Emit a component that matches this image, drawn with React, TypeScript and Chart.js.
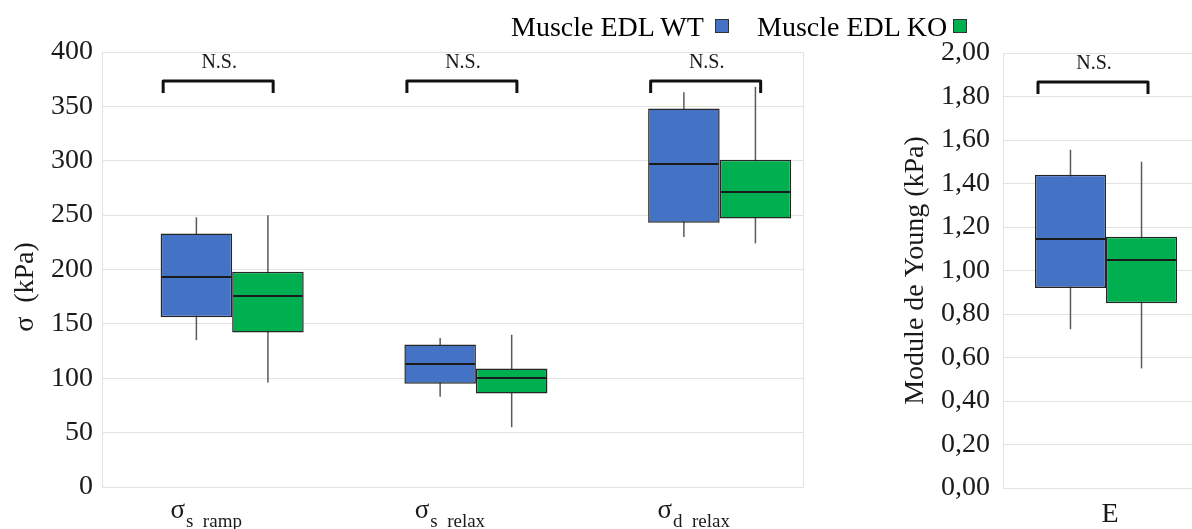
import React, { useEffect, useRef } from 'react';
import { Chart, registerables } from 'chart.js';

Chart.register(...registerables);

// ---------- data ----------
const seriesNames = ['Muscle EDL WT', 'Muscle EDL KO'];

// stress panel (kPa)
const stressMain = ['σ', 'σ', 'σ'];
const stressSub = ['s  ramp', 's  relax', 'd  relax'];
const wtMin = [135, 83, 230];
const wtQ1 = [156, 95, 243];
const wtMedian = [193, 113, 297];
const wtQ3 = [233, 131, 348];
const wtMax = [248, 137, 363];
const koMin = [96, 55, 224];
const koQ1 = [142, 86, 247];
const koMedian = [176, 100, 271];
const koQ3 = [198, 109, 301];
const koMax = [250, 140, 368];
const stressSig = ['N.S.', 'N.S.', 'N.S.'];
const stressTitle = 'σ  (kPa)';
const stressMax = 400;
const stressStep = 50;

// Young's modulus panel (kPa)
const youngCats = ['E'];
const eWtMin = [0.73];
const eWtQ1 = [0.92];
const eWtMedian = [1.145];
const eWtQ3 = [1.44];
const eWtMax = [1.555];
const eKoMin = [0.55];
const eKoQ1 = [0.85];
const eKoMedian = [1.05];
const eKoQ3 = [1.155];
const eKoMax = [1.5];
const youngSig = ['N.S.'];
const youngTitle = 'Module de Young (kPa)';
const youngMax = 2;
const youngStep = 0.2;

// ---------- styles ----------
const FONT = "'Liberation Serif', 'Times New Roman', serif";
const BLUE = '#4472C4';
const GREEN = '#00B050';
const BOX_BORDER = '#262626';
const WHISKER = '#5a5a5a';
const MEDIAN = '#1a1a1a';
const GRID = '#e2e2e2';
const TEXT = '#1a1a1a';

type Series = { min: number[]; q1: number[]; med: number[]; q3: number[]; max: number[] };

type Cfg = {
  count: number;
  wt: Series;
  ko: Series;
  yMax: number;
  yStep: number;
  tickFmt: (v: number) => string;
  title: string;
  axisTitle: boolean;
  xMin: number;
  xMax: number;
  catPct: number;
  yAxisWidth: number;
  tickPad: number;
  padding: { top: number; bottom: number; left: number; right: number };
  sig: string[];
  bracketShift: number;
  drawLabels: (chart: any) => void;
};

function makeBoxChart(canvas: HTMLCanvasElement, cfg: Cfg) {
  const xs = Array.from({ length: cfg.count }, (_, i) => i + 1);
  const boxDs = (s: Series, color: string, stack: string) => ({
    data: xs.map((x, i) => ({ x, y: [s.q1[i], s.q3[i]] })),
    backgroundColor: color,
    borderColor: BOX_BORDER,
    borderWidth: 1.5,
    borderSkipped: false,
    stack,
    order: 0,
    categoryPercentage: cfg.catPct,
    barPercentage: 1,
  });
  const whiskerDs = (s: Series, stack: string) => ({
    data: xs.map((x, i) => ({ x, y: [s.min[i], s.max[i]] })),
    backgroundColor: WHISKER,
    borderWidth: 0,
    stack,
    order: 1,
    categoryPercentage: cfg.catPct,
    barPercentage: 1,
    maxBarThickness: 1.5,
  });

  const boxPlugin = {
    id: 'boxExtras',
    beforeDatasetsDraw(chart: any) {
      const { ctx, chartArea: a } = chart;
      ctx.save();
      ctx.strokeStyle = GRID;
      ctx.lineWidth = 1;
      ctx.strokeRect(Math.round(a.left) + 0.5, Math.round(a.top) + 0.5, Math.round(a.right - a.left) - 1, Math.round(a.bottom - a.top));
      ctx.restore();
    },
    afterDatasetsDraw(chart: any) {
      const { ctx, chartArea: a } = chart;
      const yS = chart.scales.y;
      const xS = chart.scales.x;
      [cfg.wt, cfg.ko].forEach((s, d) => {
        const meta = chart.getDatasetMeta(d);
        meta.data.forEach((el: any, i: number) => {
          const { x, width } = el.getProps(['x', 'width'], true);
          const py = Math.round(yS.getPixelForValue(s.med[i]));
          ctx.save();
          ctx.strokeStyle = MEDIAN;
          ctx.lineWidth = 2;
          ctx.beginPath();
          ctx.moveTo(x - width / 2 + 1, py);
          ctx.lineTo(x + width / 2 - 1, py);
          ctx.stroke();
          ctx.restore();
        });
      });
      // significance brackets
      cfg.sig.forEach((label, i) => {
        const cx = xS.getPixelForValue(i + 1) + cfg.bracketShift;
        const top = a.top + 29;
        ctx.save();
        ctx.strokeStyle = '#111';
        ctx.lineWidth = 3;
        ctx.lineJoin = 'round';
        ctx.beginPath();
        ctx.moveTo(cx - 55, top + 12);
        ctx.lineTo(cx - 55, top);
        ctx.lineTo(cx + 55, top);
        ctx.lineTo(cx + 55, top + 12);
        ctx.stroke();
        ctx.fillStyle = TEXT;
        ctx.font = `20px ${FONT}`;
        ctx.textAlign = 'center';
        ctx.textBaseline = 'alphabetic';
        ctx.fillText(label, cx + 1, top - 13);
        ctx.restore();
      });
    },
    afterDraw(chart: any) {
      cfg.drawLabels(chart);
    },
  };

  return new Chart(canvas, {
    type: 'bar',
    data: {
      datasets: [
        { label: seriesNames[0], ...boxDs(cfg.wt, BLUE, 'wt') },
        { label: seriesNames[1], ...boxDs(cfg.ko, GREEN, 'ko') },
        { label: seriesNames[0] + ' whisker', ...whiskerDs(cfg.wt, 'wt') },
        { label: seriesNames[1] + ' whisker', ...whiskerDs(cfg.ko, 'ko') },
      ] as any,
    },
    options: {
      animation: false,
      responsive: false,
      devicePixelRatio: 1,
      layout: { padding: cfg.padding },
      plugins: { legend: { display: false }, tooltip: { enabled: false } },
      scales: {
        x: {
          type: 'linear',
          display: false,
          offset: false,
          min: cfg.xMin,
          max: cfg.xMax,
          afterBuildTicks: (s: any) => {
            s.ticks = xs.map((v) => ({ value: v }));
          },
        } as any,
        y: {
          min: 0,
          max: cfg.yMax,
          stacked: false,
          beginAtZero: true,
          ticks: {
            stepSize: cfg.yStep,
            padding: cfg.tickPad,
            color: TEXT,
            font: { family: FONT, size: 28 },
            callback: (v: any) => cfg.tickFmt(Number(v)),
          },
          grid: { color: GRID, drawTicks: false, lineWidth: 1 },
          border: { display: false },
          title: {
            display: cfg.axisTitle,
            text: cfg.title,
            color: TEXT,
            font: { family: FONT, size: 28 },
            padding: { top: 9, bottom: 0 },
          },
          afterFit: (s: any) => {
            s.width = cfg.yAxisWidth;
          },
        } as any,
      },
    },
    plugins: [boxPlugin],
  } as any);
}

const stressCfg: Cfg = {
  count: stressMain.length,
  wt: { min: wtMin, q1: wtQ1, med: wtMedian, q3: wtQ3, max: wtMax },
  ko: { min: koMin, q1: koQ1, med: koMedian, q3: koQ3, max: koMax },
  yMax: stressMax,
  yStep: stressStep,
  tickFmt: (v) => String(Math.round(v)),
  title: stressTitle,
  axisTitle: false,
  xMin: 0.466,
  xMax: 3.346,
  catPct: 0.587,
  yAxisWidth: 102,
  tickPad: 9,
  padding: { top: 52, bottom: 42, left: 0, right: 6 },
  sig: stressSig,
  bracketShift: -14,
  drawLabels: (chart: any) => {
    const { ctx } = chart;
    const xS = chart.scales.x;
    // y axis title (drawn here so it can sit where the original has it)
    ctx.save();
    ctx.translate(26, 287);
    ctx.rotate(-Math.PI / 2);
    ctx.fillStyle = TEXT;
    ctx.textAlign = 'center';
    ctx.textBaseline = 'middle';
    ctx.font = `28px ${FONT}`;
    ctx.fillText(stressTitle, 0, 0);
    ctx.restore();
    stressMain.forEach((m, i) => {
      const px = xS.getPixelForValue(i + 1);
      ctx.save();
      ctx.fillStyle = TEXT;
      ctx.textBaseline = 'alphabetic';
      ctx.textAlign = 'left';
      ctx.font = `27px ${FONT}`;
      const wMain = ctx.measureText(m).width;
      ctx.font = `19px ${FONT}`;
      const wSub = ctx.measureText(stressSub[i]).width;
      const total = wMain + 1 + wSub;
      const start = px - 26 - total / 2;
      ctx.font = `27px ${FONT}`;
      ctx.fillText(m, start, 518);
      ctx.font = `19px ${FONT}`;
      ctx.fillText(stressSub[i], start + wMain + 1, 527);
      ctx.restore();
    });
  },
};

const youngCfg: Cfg = {
  count: youngCats.length,
  wt: { min: eWtMin, q1: eWtQ1, med: eWtMedian, q3: eWtQ3, max: eWtMax },
  ko: { min: eKoMin, q1: eKoQ1, med: eKoMedian, q3: eKoQ3, max: eKoMax },
  yMax: youngMax,
  yStep: youngStep,
  tickFmt: (v) => v.toFixed(2).replace('.', ','),
  title: youngTitle,
  axisTitle: true,
  xMin: 0.5,
  xMax: 1.5,
  catPct: 0.69,
  yAxisWidth: 113,
  tickPad: 13,
  padding: { top: 53, bottom: 41, left: 0, right: 6 },
  sig: youngSig,
  bracketShift: -13,
  drawLabels: (chart: any) => {
    const { ctx } = chart;
    const xS = chart.scales.x;
    youngCats.forEach((c, i) => {
      const px = xS.getPixelForValue(i + 1);
      ctx.save();
      ctx.fillStyle = TEXT;
      ctx.textBaseline = 'alphabetic';
      ctx.textAlign = 'center';
      ctx.font = `28px ${FONT}`;
      ctx.fillText(c, px + 4, 522);
      ctx.restore();
    });
  },
};

export default function App() {
  const leftRef = useRef<HTMLCanvasElement>(null);
  const rightRef = useRef<HTMLCanvasElement>(null);

  useEffect(() => {
    const c1 = makeBoxChart(leftRef.current as HTMLCanvasElement, stressCfg);
    const c2 = makeBoxChart(rightRef.current as HTMLCanvasElement, youngCfg);
    return () => {
      c1.destroy();
      c2.destroy();
    };
  }, []);

  const legendText: React.CSSProperties = {
    position: 'absolute',
    top: 13,
    fontFamily: FONT,
    fontSize: 28,
    lineHeight: '28px',
    color: '#000',
    whiteSpace: 'nowrap',
  };
  const sq = (left: number, color: string): React.CSSProperties => ({
    position: 'absolute',
    left,
    top: 19,
    width: 12,
    height: 12,
    background: color,
    border: '1px solid #333',
  });

  return (
    <div
      style={{
        position: 'fixed',
        left: 0,
        top: 0,
        width: 1192,
        height: 529,
        overflow: 'hidden',
        background: '#fff',
      }}
    >
      <canvas ref={leftRef} width={810} height={529} style={{ position: 'absolute', left: 0, top: 0, width: 810, height: 529 }} />
      <canvas ref={rightRef} width={325} height={529} style={{ position: 'absolute', left: 890, top: 0, width: 325, height: 529 }} />
      <span style={{ ...legendText, left: 511 }}>{seriesNames[0]}</span>
      <span style={sq(715, BLUE)} />
      <span style={{ ...legendText, left: 757 }}>{seriesNames[1]}</span>
      <span style={sq(953, GREEN)} />
    </div>
  );
}
